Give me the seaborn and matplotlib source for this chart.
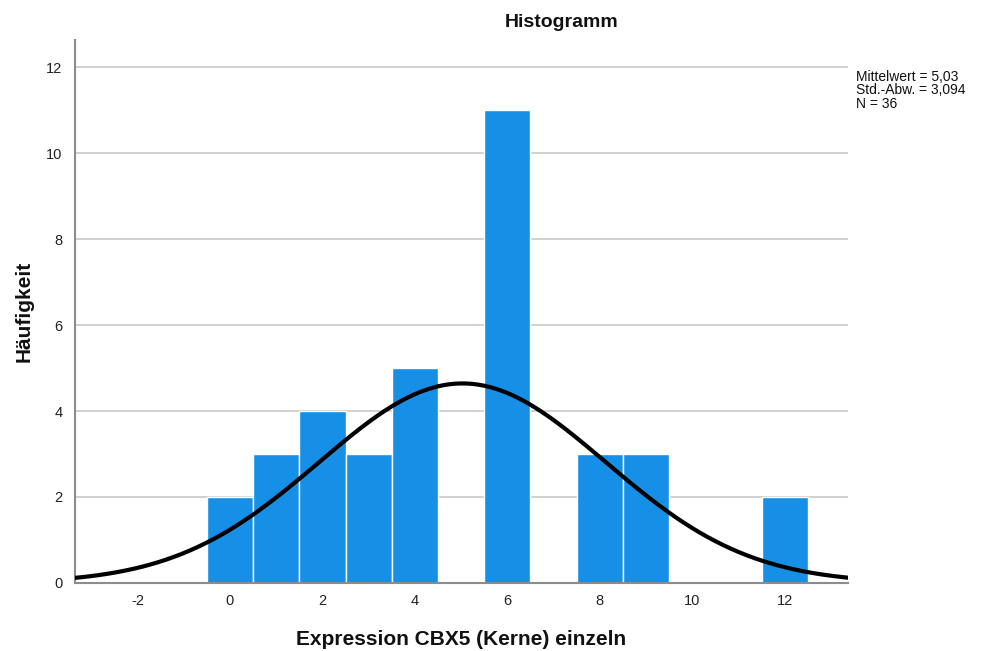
import numpy as np
import pandas as pd
import matplotlib
matplotlib.use("Agg")
import matplotlib.pyplot as plt
import seaborn as sns

# Data
bin_centers = [0, 1, 2, 3, 4, 5, 6, 7, 8, 9, 10, 11, 12]
counts = [2, 3, 4, 3, 5, 0, 11, 0, 3, 3, 0, 0, 2]
mean_val = 5.03
std_val = 3.094
n_val = 36
x_ticks = [-2, 0, 2, 4, 6, 8, 10, 12]
y_ticks = [0, 2, 4, 6, 8, 10, 12]

sns.set_style("white")
plt.rcParams['font.family'] = ['Liberation Sans', 'DejaVu Sans']

fig = plt.figure(figsize=(9.81, 6.51), dpi=100)
ax = fig.add_axes([0.0765, 0.1045, 0.7875, 0.834])

df = pd.DataFrame({"x": bin_centers, "w": counts})
sns.histplot(data=df, x="x", weights="w", discrete=True, ax=ax,
             color="#1590e6", alpha=1.0, edgecolor="white", linewidth=1.0,
             zorder=2)
# hide empty bins so their edges don't cut the gridline
for p in ax.patches:
    if p.get_height() == 0:
        p.set_visible(False)

xs = np.linspace(-3.4, 13.4, 400)
ys = n_val * 1.0 * np.exp(-0.5 * ((xs - mean_val) / std_val) ** 2) / (std_val * np.sqrt(2 * np.pi))
sns.lineplot(x=xs, y=ys, ax=ax, color="black", linewidth=3, zorder=3)

ax.set_xlim(-3.35, 13.36)
ax.set_ylim(0, 12.63)
ax.set_xticks(x_ticks)
ax.set_yticks(y_ticks)
ax.set_xticklabels([str(t) for t in x_ticks])
ax.set_yticklabels([str(t) for t in y_ticks])
ax.tick_params(axis="x", length=0, labelsize=10.5, colors="#222222", pad=8)
ax.tick_params(axis="y", length=0, labelsize=10.5, colors="#222222", pad=9)
ax.yaxis.grid(True, color="#c8c8c8", linewidth=1.2, zorder=0)
ax.set_axisbelow(True)
for s in ["top", "right"]:
    ax.spines[s].set_visible(False)
for s in ["left", "bottom"]:
    ax.spines[s].set_color("#8c8c8c")
    ax.spines[s].set_linewidth(1.5)

ax.set_xlabel("Expression CBX5 (Kerne) einzeln", fontsize=15, fontweight="bold",
              labelpad=16, color="#111111")
ax.set_ylabel("Häufigkeit", fontsize=15, fontweight="bold", labelpad=9, color="#111111")
fig.text(0.572, 0.966, "Histogramm", ha="center", va="center", fontsize=14,
         fontweight="bold", color="#111111")

fig.text(0.873, 0.893, f"Mittelwert = 5,03\nStd.-Abw. = 3,094\nN = {n_val}",
         ha="left", va="top", fontsize=10, linespacing=0.98, color="#111111")

fig.savefig("out.png", dpi=100)
